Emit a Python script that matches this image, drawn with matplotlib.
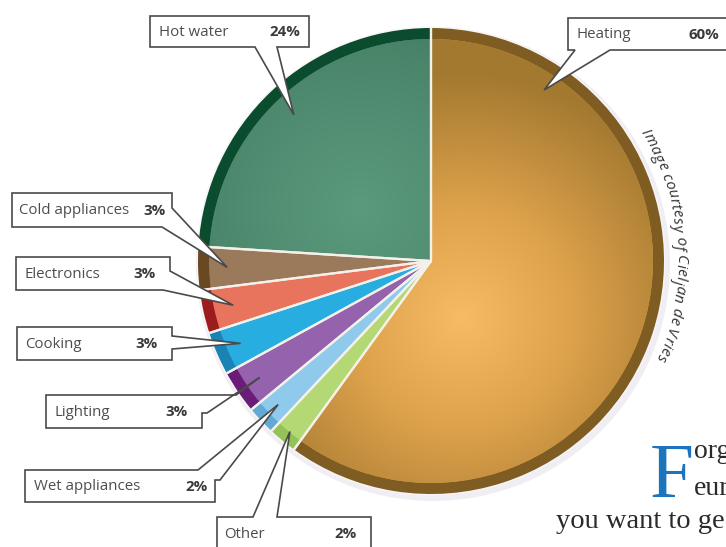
import numpy as np
import matplotlib
matplotlib.use('Agg')
import matplotlib.pyplot as plt
from matplotlib.patches import Polygon, Circle
from matplotlib.colors import to_rgb
from matplotlib.font_manager import FontProperties, findfont
from matplotlib.ft2font import FT2Font
from matplotlib.textpath import TextPath

# ---------------- data ----------------
categories = ['Hot water', 'Cold appliances', 'Electronics', 'Cooking',
              'Lighting', 'Wet appliances', 'Other', 'Heating']
shares = [24, 3, 3, 3, 3, 2, 2, 60]
pct_labels = ['24%', '3%', '3%', '3%', '3%', '2%', '2%', '60%']

face_colors = ['#4e8a6e', '#9b7a5c', '#e8745e', '#27ade0', '#9562ad',
               '#8fc9ec', '#b3d874', '#d9a04c']
rim_colors = ['#0c4c2e', '#6a4822', '#9c1c1e', '#1a83b4', '#6a1c78',
              '#62a9d6', '#93c257', '#7e5c22']

credit = 'Image courtesy of Cieljan de Vries'

# ---------------- layout ----------------
W, H = 726, 547
CX, CY, R = 431, 261, 233
R_IN = 222

fig = plt.figure(figsize=(7.26, 5.47), dpi=100)
ax = fig.add_axes([0, 0, 1, 1])

# soft halo / shadow
ax.add_patch(Circle((CX + 2, CY + 3), R + 4, fc='#e6e3ea', ec='none', alpha=0.6, zorder=0))
ax.add_patch(Circle((CX, CY), R + 1.5, fc='#f7f5f8', ec='none', zorder=0.5))

# pixel coords, y down => screen-ccw from top is data-clockwise from 270
outer, _ = ax.pie(shares, colors=rim_colors, radius=R, center=(CX, CY),
                  startangle=270, counterclock=False,
                  wedgeprops=dict(edgecolor='none', linewidth=0))
inner, _ = ax.pie(shares, colors=face_colors, radius=R_IN, center=(CX, CY),
                  startangle=270, counterclock=False,
                  wedgeprops=dict(edgecolor='none', linewidth=0))
for w in outer:
    w.set_zorder(1)
for w in inner:
    w.set_zorder(2)

# gradients
yy, xx = np.mgrid[0:H, 0:W] + 0.5

def radial(cx, cy, rad, stops):
    d = np.clip(np.hypot(xx - cx, yy - cy) / rad, 0, 1)
    pos = [s[0] for s in stops]
    cols = np.array([to_rgb(s[1]) for s in stops])
    img = np.zeros((H, W, 3))
    for k in range(3):
        img[..., k] = np.interp(d, pos, cols[:, k])
    return img

heat_img = radial(462, 318, 245, [(0, '#f6bb64'), (0.45, '#dea24c'), (1.0, '#a37930')])
im = ax.imshow(heat_img, extent=(0, W, H, 0), origin='upper', zorder=2.5,
               interpolation='bilinear')
im.set_clip_path(inner[categories.index('Heating')])

hw_img = radial(360, 210, 260, [(0, '#5b9a7d'), (0.6, '#4b866b'), (1.0, '#3a7057')])
im2 = ax.imshow(hw_img, extent=(0, W, H, 0), origin='upper', zorder=2.5,
                interpolation='bilinear')
im2.set_clip_path(inner[categories.index('Hot water')])

# white separators
for w in outer:
    for th in (w.theta1, w.theta2):
        t = np.deg2rad(th)
        ax.plot([CX, CX + R * np.cos(t)], [CY, CY + R * np.sin(t)],
                color='#f4f1ea', lw=1.6, zorder=3, solid_capstyle='butt')

# ---------------- callouts ----------------
TIP = None
callouts = {
    'Hot water':       dict(poly=[(150, 16), (309, 16), (309, 47), (277, 47), TIP, (255, 47), (150, 47)],
                            f=0.5, rf=0.86, name=(159, 32), pct=(300, 32)),
    'Heating':         dict(poly=[(568, 18), (740, 18), (740, 50), (610, 50), TIP, (575, 50), (568, 50)],
                            f=0.155, rf=0.88, name=(577, 35), pct=(719, 35)),
    'Cold appliances': dict(poly=[(12, 193), (172, 193), (172, 208), TIP, (162, 227), (12, 227)],
                            f=0.5, rf=0.875, name=(19, 211), pct=(166, 211)),
    'Electronics':     dict(poly=[(16, 257), (170, 257), (170, 271), TIP, (163, 290), (16, 290)],
                            f=0.5, rf=0.87, name=(24, 274), pct=(156, 274)),
    'Cooking':         dict(poly=[(17, 327), (172, 327), (172, 336), TIP, (172, 349), (172, 360), (17, 360)],
                            f=0.5, rf=0.89, name=(25, 344), pct=(158, 344)),
    'Lighting':        dict(poly=[(46, 395), (236, 395), TIP, (207, 413), (202, 413), (202, 428), (46, 428)],
                            f=0.5, rf=0.89, name=(55, 412), pct=(188, 412)),
    'Wet appliances':  dict(poly=[(25, 470), (198, 470), TIP, (220, 480), (215, 480), (215, 502), (25, 502)],
                            f=0.5, rf=0.9, name=(34, 487), pct=(208, 487)),
    'Other':           dict(poly=[(217, 517), (253, 517), TIP, (277, 517), (371, 517), (371, 560), (217, 560)],
                            f=0.5, rf=0.95, name=(224, 534), pct=(357, 534)),
}

FONT = 'Open Sans'
LSIZE = 10.8
for i, cat in enumerate(categories):
    c = callouts[cat]
    w = outer[i]
    th = np.deg2rad(w.theta1 + c['f'] * (w.theta2 - w.theta1))
    tip = (CX + c['rf'] * R * np.cos(th), CY + c['rf'] * R * np.sin(th))
    pts = [tip if p is None else p for p in c['poly']]
    ax.add_patch(Polygon(pts, closed=True, fc='white', ec='#4a4a4a', lw=1.2,
                         joinstyle='miter', zorder=5))
    ax.text(c['name'][0], c['name'][1], cat, fontsize=LSIZE, family=FONT,
            color='#4d4d4d', ha='left', va='center', zorder=6)
    ax.text(c['pct'][0], c['pct'][1], pct_labels[i], fontsize=LSIZE, family=FONT,
            fontweight='bold', color='#3a3a3a', ha='right', va='center', zorder=6)

# ---------------- curved credit text (one real text per letter) ----------------
CSIZE = 11                      # points
PX = CSIZE * 100 / 72.0         # pixels per em at 100 dpi
fp = FontProperties(family=FONT, style='italic', size=CSIZE)
ft = FT2Font(findfont(fp))
ft.set_size(CSIZE, 100)
adv = np.array([ft.load_char(ord(ch)).linearHoriAdvance / 65536.0 for ch in credit])
phi0, phi1, RB = 31.5, -23.5, 246
arc = np.deg2rad(phi0 - phi1) * RB
gap = (arc - adv.sum()) / (len(credit) - 1)
starts = np.concatenate([[0], np.cumsum(adv + gap)[:-1]])
for k, ch in enumerate(credit):
    if ch == ' ':
        continue
    xmin = TextPath((0, 0), ch, size=PX, prop=fp).get_extents().x0
    s = starts[k] + adv[k] / 2
    phi = phi0 - np.rad2deg(s / RB)
    t = np.deg2rad(phi)
    alpha = np.deg2rad(phi - 90)
    u = -adv[k] / 2 + min(xmin, 0.0)     # from glyph centre back to the drawn box's left
    px = CX + RB * np.cos(t) + u * np.cos(alpha)
    py = CY - RB * np.sin(t) - u * np.sin(alpha)
    ax.text(px, py, ch, fontproperties=fp, color='#333333',
            rotation=phi - 90, rotation_mode='anchor',
            ha='left', va='baseline', zorder=6)

# ---------------- page text (bottom right) ----------------
SERIF = 'Liberation Serif'
ax.text(650, 497, 'F', family=SERIF, fontsize=57, color='#1b74bc',
        ha='left', va='baseline', zorder=6)
ax.text(694, 458, 'org', family=SERIF, fontsize=20, color='#2a2a2a',
        ha='left', va='baseline', zorder=6)
ax.text(694, 495, 'eur', family=SERIF, fontsize=20, color='#2a2a2a',
        ha='left', va='baseline', zorder=6)
ax.text(556, 528, 'you want to ge', family=SERIF, fontsize=20.5, color='#2a2a2a',
        ha='left', va='baseline', zorder=6)

ax.set_xlim(0, W)
ax.set_ylim(H, 0)
ax.set_aspect('auto')
ax.axis('off')
fig.savefig('out.png', dpi=100, facecolor='white')
